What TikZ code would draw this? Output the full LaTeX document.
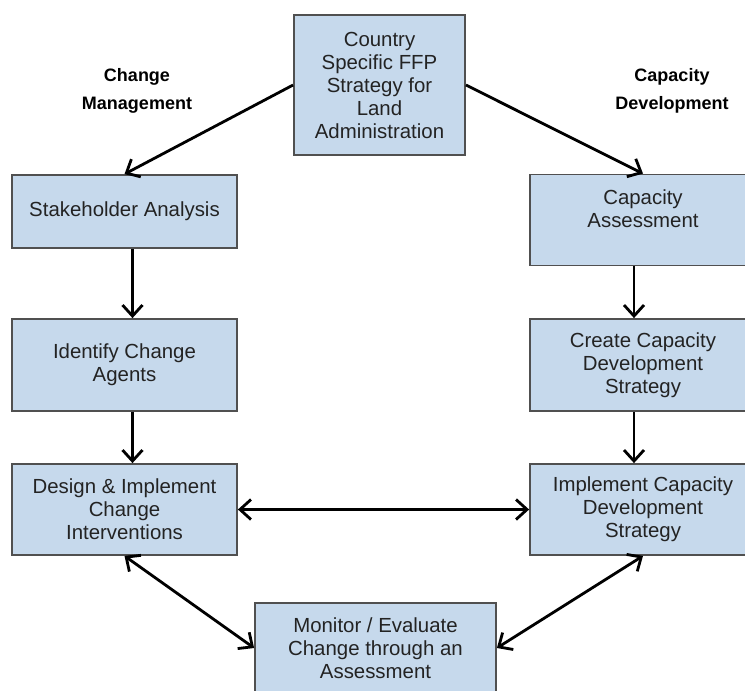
\documentclass[tikz,border=0pt]{standalone}
\usepackage{fontspec}
\setmainfont{Liberation Sans}
\usetikzlibrary{arrows.meta}
\definecolor{boxblue}{RGB}{198,217,236}
\definecolor{boxline}{RGB}{80,80,80}
\definecolor{boxtext}{RGB}{35,35,35}
\begin{document}
\begin{tikzpicture}[x=0.5pt, y=-0.5pt,
        box/.style={draw=boxline, line width=0.9pt, fill=boxblue, text=boxtext, align=center, inner sep=0pt, font=\fontsize{10.2}{11.5}\selectfont},
        link/.style={line width=1.4pt, >={Straight Barb[length=5.5pt,width=10pt]}},
        side/.style={align=center, font=\fontsize{9}{14}\selectfont\bfseries}]
        \useasboundingbox (0,0) rectangle (745,691);
        \clip (0,0) rectangle (745,691);
        \node[box, minimum width=85.5pt, minimum height=70pt] (strat) at (379.5,85) {Country\\Specific FFP\\Strategy for\\Land\\Administration};
        \node[side] (chg) at (137,91) {Change\\Management};
        \node[side] (cap) at (672,91) {Capacity\\Development};
        % change management column
        \node[box, minimum width=112.5pt, minimum height=36.5pt] (stake) at (124.5,211.5) {Stakeholder Analysis};
        \node[box, minimum width=112.5pt, minimum height=46pt] (ident) at (124.5,365) {Identify Change\\Agents};
        \node[box, minimum width=112.5pt, minimum height=45.5pt] (design) at (124.5,509.5) {Design \& Implement\\Change\\Interventions};
        % capacity development column
        \node[box, minimum width=113pt, minimum height=45.5pt] (capass) at (643,220) {Capacity\\Assessment\\~};
        \node[box, minimum width=113pt, minimum height=46pt] (create) at (643,365) {Create Capacity\\Development\\Strategy};
        \node[box, minimum width=113pt, minimum height=45.5pt] (impl) at (643,509.5) {Implement Capacity\\Development\\Strategy};
        \node[box, minimum width=120.5pt, minimum height=45pt] (monitor) at (375.5,648) {Monitor / Evaluate\\Change through an\\Assessment};
        \draw[link, ->] (strat.west) -- (stake.north);
        \draw[link, ->] (strat.east) -- (capass.north);
        \draw[link, ->] ([xshift=4pt]stake.south) -- ([xshift=4pt]ident.north);
        \draw[link, ->] ([xshift=4pt]ident.south) -- ([xshift=4pt]design.north);
        \draw[link, ->] ([xshift=-4.5pt]capass.south) -- ([xshift=-4.5pt]create.north);
        \draw[link, ->] ([xshift=-4.5pt]create.south) -- ([xshift=-4.5pt]impl.north);
        \draw[link, <->] (design.east) -- (impl.west);
        \draw[link, <->] (design.south) -- (monitor.west);
        \draw[link, <->] (impl.south) -- (monitor.east);
\end{tikzpicture}
\end{document}
